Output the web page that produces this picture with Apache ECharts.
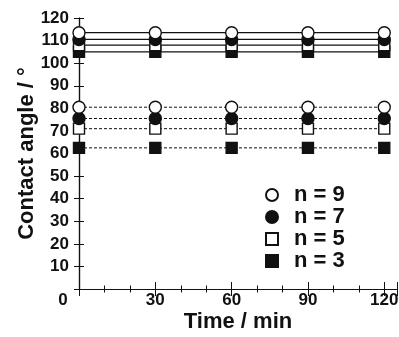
<!DOCTYPE html>
<html>
<head>
<meta charset="utf-8">
<script src="https://cdn.jsdelivr.net/npm/echarts@6/dist/echarts.min.js"></script>
<style>
  html, body { margin: 0; padding: 0; background: #fff; }
  #main { width: 399px; height: 337px; }
</style>
</head>
<body>
<div id="main"></div>
<script>
var times = [0, 30, 60, 90, 120];
var names = ['n = 9', 'n = 7', 'n = 5', 'n = 3'];
// solid lines (upper group)
var upper9 = [113.5, 113.5, 113.5, 113.5, 113.5];
var upper7 = [110.5, 110.5, 110.5, 110.5, 110.5];
var upper5 = [108, 108, 108, 108, 108];
var upper3 = [105, 105, 105, 105, 105];
// dotted lines (lower group)
var lower9 = [80.5, 80.5, 80.5, 80.5, 80.5];
var lower7 = [75.5, 75.5, 75.5, 75.5, 75.5];
var lower5 = [71, 71, 71, 71, 71];
var lower3 = [62.5, 62.5, 62.5, 62.5, 62.5];

var ink = '#111';
var font = 'Liberation Sans, Arial, sans-serif';

// marker look per n
var marks = {
    'n = 9': { symbol: 'circle', size: 12, fill: '#fff' },
    'n = 7': { symbol: 'circle', size: 12, fill: ink },
    'n = 5': { symbol: 'rect', size: 11, fill: '#fff' },
    'n = 3': { symbol: 'rect', size: 11, fill: ink }
};

function pairs(vals) {
    return vals.map(function (v, i) { return [times[i], v]; });
}

function makeSeries(name, vals, dotted, z) {
    var m = marks[name];
    return {
        name: name,
        type: 'line',
        data: pairs(vals),
        symbol: m.symbol,
        symbolSize: m.size,
        clip: false,
        z: z,
        animation: false,
        itemStyle: { color: m.fill, borderColor: ink, borderWidth: 1.4 },
        lineStyle: { color: ink, width: dotted ? 1 : 1.2, type: dotted ? [3, 2] : 'solid' }
    };
}

var axisLine = { show: true, lineStyle: { color: ink, width: 1.2 } };
var tick = { inside: true, length: 7, lineStyle: { color: ink } };
var minor = { show: true, splitNumber: 3, length: 3.5, lineStyle: { color: ink } };

var option = {
    backgroundColor: '#fff',
    grid: { left: 79, right: 2, top: 18, bottom: 48, containLabel: false, outerBoundsMode: 'none' },
    legend: {
        orient: 'vertical',
        left: 260,
        top: 179,
        itemWidth: 12,
        itemHeight: 12,
        itemGap: 0,
        selectedMode: false,
        data: [
            { name: 'n = 9', icon: 'circle' },
            { name: 'n = 7', icon: 'circle' },
            { name: 'n = 5', icon: 'rect' },
            { name: 'n = 3', icon: 'rect' }
        ],
        textStyle: { color: ink, fontSize: 22, fontFamily: font, fontWeight: 'bold', lineHeight: 22, padding: [0, 0, 0, 11] }
    },
    xAxis: [
        {
            type: 'value', min: 0, max: 125, interval: 30,
            name: 'Time / min', nameLocation: 'middle', nameGap: 22, nameMoveOverlap: false,
            nameTextStyle: { color: ink, fontSize: 22, fontFamily: font, fontWeight: 'bold' },
            axisLine: axisLine,
            axisTick: tick,
            minorTick: minor,
            splitLine: { show: false },
            axisLabel: {
                color: ink, fontSize: 17, fontFamily: font, fontWeight: 'bold', margin: 3, showMaxLabel: false,
                formatter: function (v) { return v === 0 ? '{z|0}' : String(v); },
                rich: { z: { fontSize: 17, fontFamily: font, fontWeight: 'bold', color: ink, padding: [0, 32, 0, 0] } }
            }
        },
        {
            type: 'value', position: 'top', min: 0, max: 125, interval: 30,
            axisLine: axisLine,
            axisTick: tick,
            minorTick: minor,
            splitLine: { show: false },
            axisLabel: { show: false }
        }
    ],
    yAxis: [
        {
            type: 'value', min: 0, max: 120, interval: 10,
            name: 'Contact angle / °', nameLocation: 'middle', nameGap: 41, nameMoveOverlap: false,
            nameTextStyle: { color: ink, fontSize: 22, fontFamily: font, fontWeight: 'bold' },
            axisLine: axisLine,
            axisTick: { inside: true, length: 5, lineStyle: { color: ink } },
            splitLine: { show: false },
            axisLabel: {
                color: ink, fontSize: 17, fontFamily: font, fontWeight: 'bold', margin: 10,
                formatter: function (v) { return v === 0 ? '' : String(v); }
            }
        },
        {
            type: 'value', position: 'right', min: 0, max: 120, interval: 10,
            axisLine: axisLine,
            axisTick: { inside: true, length: 5, lineStyle: { color: ink } },
            splitLine: { show: false },
            axisLabel: { show: false }
        }
    ],
    series: [
        makeSeries('n = 3', upper3, false, 2),
        makeSeries('n = 5', upper5, false, 3),
        makeSeries('n = 7', upper7, false, 4),
        makeSeries('n = 9', upper9, false, 5),
        makeSeries('n = 3', lower3, true, 2),
        makeSeries('n = 5', lower5, true, 3),
        makeSeries('n = 7', lower7, true, 4),
        makeSeries('n = 9', lower9, true, 5)
    ]
};

var myChart = echarts.init(document.getElementById('main'));
myChart.setOption(option);
</script>
</body>
</html>
